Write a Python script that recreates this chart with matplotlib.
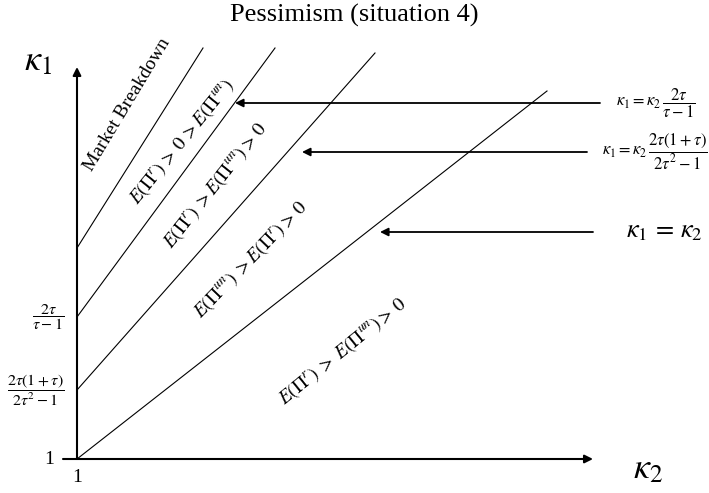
import matplotlib.pyplot as plt
import numpy as np

plt.rcParams["font.family"] = "Liberation Serif"
plt.rcParams["mathtext.fontset"] = "stix"

# boundary lines: start on the kappa_1 axis (kappa_2 = 1) and run up to the right
line_y0 = [3.11, 2.42, 1.69, 1.00]
line_x1 = [2.26, 2.98, 3.98, 5.70]
line_y1 = [5.11, 5.11, 5.06, 4.68]

# arrows from the right-hand equations back to the lines
arrow_y = [4.56, 4.07, 3.27]
arrow_x_start = [6.23, 6.10, 6.16]
arrow_x_end = [2.58, 3.25, 4.03]
arrow_labels = [
    r"$\kappa_1 = \kappa_2\,\dfrac{2\tau}{\tau-1}$",
    r"$\kappa_1 = \kappa_2\,\dfrac{2\tau(1+\tau)}{2\tau^2-1}$",
    r"$\kappa_1\,=\,\kappa_2$",
]
arrow_label_x = [6.79, 6.78, 6.87]
arrow_label_size = [12, 12, 19]

# region labels between the lines
region_labels = [
    "Market Breakdown",
    r"$E(\Pi^r)\,>\,0\,>E(\Pi^{un})$",
    r"$E(\Pi^r)\;>E(\Pi^{un})>\,0$",
    r"$E(\Pi^{un})\;>E(\Pi^r)>\,0$",
    r"$E(\Pi^r)\;>\;E(\Pi^{un})>\,0$",
]
region_x = [1.50, 2.06, 2.39, 2.74, 3.66]
region_y = [4.54, 4.17, 3.73, 2.99, 2.07]
region_rot = [59, 51, 51.5, 46, 39]

# tick labels on the kappa_1 axis
ytick_vals = [1.0, 1.69, 2.42]
ytick_text = ["1", r"$\dfrac{2\tau(1+\tau)}{2\tau^2-1}$", r"$\dfrac{2\tau}{\tau-1}$"]
ytick_x = [0.72, 0.59, 0.71]

fig = plt.figure(figsize=(7.09, 4.93), dpi=100)
ax = fig.add_axes([0, 0, 1, 1])
ax.set_xlim(0.23, 7.32)
ax.set_ylim(0.66, 5.59)
ax.axis("off")

# axes with arrow heads
ax.annotate("", xy=(1.0, 4.92), xytext=(1.0, 1.0),
            arrowprops=dict(arrowstyle="-|>", lw=1.5, color="black",
                            mutation_scale=12, shrinkA=0, shrinkB=0))
ax.annotate("", xy=(6.16, 1.0), xytext=(0.86, 1.0),
            arrowprops=dict(arrowstyle="-|>", lw=1.5, color="black",
                            mutation_scale=12, shrinkA=0, shrinkB=0))

for y0, x1, y1 in zip(line_y0, line_x1, line_y1):
    ax.plot([1.0, x1], [y0, y1], color="black", lw=0.8)

for y, xs, xe in zip(arrow_y, arrow_x_start, arrow_x_end):
    ax.annotate("", xy=(xe, y), xytext=(xs, y),
                arrowprops=dict(arrowstyle="-|>", lw=1.3, color="black",
                                mutation_scale=12, shrinkA=0, shrinkB=0))

for y, x, txt, fs in zip(arrow_y, arrow_label_x, arrow_labels, arrow_label_size):
    ax.text(x, y, txt, fontsize=fs, ha="center", va="center")

for txt, x, y, r in zip(region_labels, region_x, region_y, region_rot):
    ax.text(x, y, txt, fontsize=14, rotation=r, ha="center", va="center",
            rotation_mode="anchor")

for v, t, x in zip(ytick_vals, ytick_text, ytick_x):
    ax.text(x, v, t, fontsize=14 if t == "1" else 11.5, ha="center", va="center")
ax.text(1.0, 0.81, "1", fontsize=14, ha="center", va="center")

ax.text(0.61, 4.97, r"$\kappa_1$", fontsize=26, ha="center", va="center")
ax.text(6.71, 0.89, r"$\kappa_2$", fontsize=26, ha="center", va="center")

ax.text(3.77, 5.44, "Pessimism (situation 4)", fontsize=19, ha="center", va="center")

fig.savefig("out.png", dpi=100)
